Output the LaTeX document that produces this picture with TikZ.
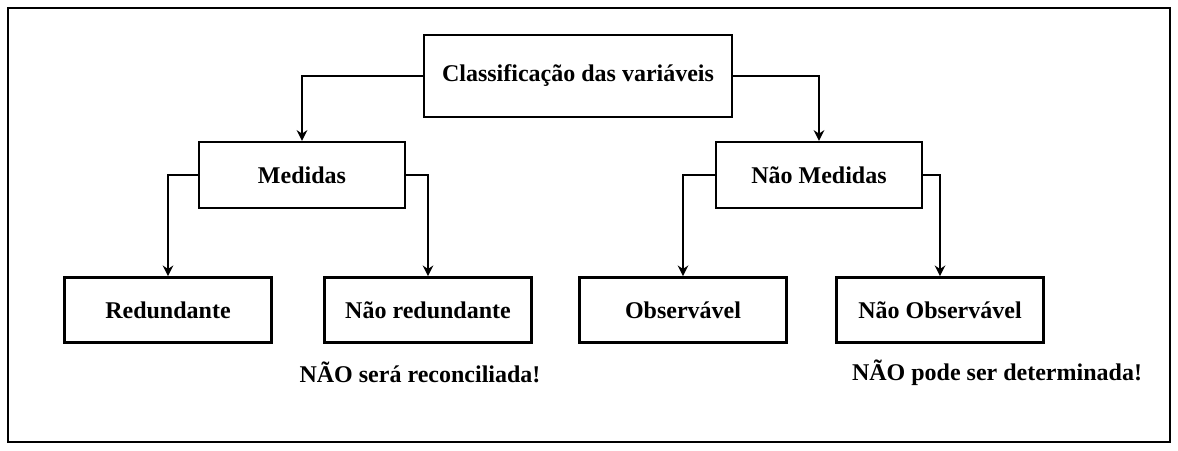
\documentclass[tikz,border=0pt]{standalone}
\usepackage{fontspec}
\setmainfont{Liberation Serif}
\usetikzlibrary{arrows.meta}
\begin{document}
\begin{tikzpicture}[x=0.75pt,y=-0.75pt,
  box/.style={draw,line width=1.8pt,minimum width=155pt,minimum height=49pt,inner sep=0pt,
    font=\fontsize{18}{22}\selectfont\bfseries},
  note/.style={inner sep=0pt,font=\fontsize{18}{22}\selectfont\bfseries},
  link/.style={line width=2.2pt,-{Stealth[length=8pt,width=8pt]}}]
\useasboundingbox (0,0) rectangle (1178,450);
\draw[line width=1.5pt] (8,8) rectangle (1170,442);
\node[box,minimum width=231pt,minimum height=61.5pt] (root) at (578,76) {Classificação das variáveis};
\node[box,minimum height=49.5pt,minimum width=154.5pt] (med) at (302,175) {Medidas};
\node[box,minimum height=49.5pt,minimum width=154.5pt] (nmed) at (819,175) {Não Medidas};
\node[box] (red) at (168,310) {Redundante};
\node[box] (nred) at (428,310) {Não redundante};
\node[box] (obs) at (683,310) {Observável};
\node[box] (nobs) at (940,310) {Não Observável};
\node[note] (n1) at (420,372) {NÃO será reconciliada!};
\node[note] (n2) at (997,373) {NÃO pode ser determinada!};
\draw[link] (root.west) -| (med.north);
\draw[link] (root.east) -| (nmed.north);
\draw[link] (med.west) -| (red.north);
\draw[link] (med.east) -| (nred.north);
\draw[link] (nmed.west) -| (obs.north);
\draw[link] (nmed.east) -| (nobs.north);
\end{tikzpicture}
\end{document}
